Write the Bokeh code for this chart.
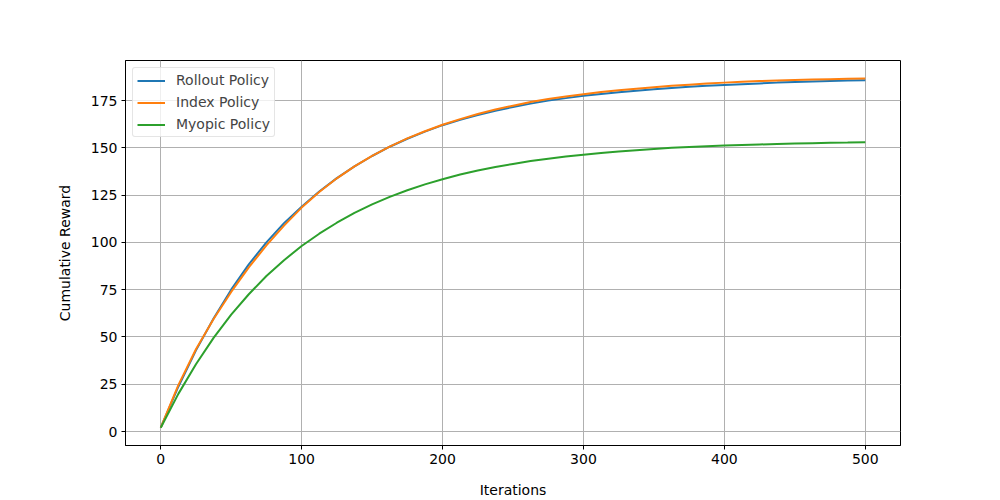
from bokeh.plotting import figure
from bokeh.models import Range1d, FixedTicker, Legend, LegendItem
from bokeh.embed import file_html
from bokeh.resources import INLINE

iterations = [0, 12.5, 25, 37.5, 50, 62.5, 75, 87.5, 100, 112.5, 125, 137.5, 150, 162.5, 175,
              187.5, 200, 212.5, 225, 237.5, 250, 262.5, 275, 287.5, 300, 312.5, 325, 337.5,
              350, 362.5, 375, 387.5, 400, 412.5, 425, 437.5, 450, 462.5, 475, 487.5, 500]

rollout = [2, 23.7, 42.9, 59.8, 75.0, 88.4, 100.0, 110.2, 118.9, 126.9, 134.0, 140.2, 145.7,
           150.6, 154.8, 158.6, 162.0, 164.8, 167.3, 169.6, 171.6, 173.4, 175.0, 176.3, 177.5,
           178.5, 179.4, 180.2, 181.0, 181.7, 182.3, 182.8, 183.3, 183.7, 184.1, 184.5, 184.8,
           185.1, 185.4, 185.6, 185.8]

index_pol = [2, 24.5, 43.5, 59.5, 73.8, 86.8, 98.4, 108.9, 118.4, 126.7, 133.9, 140.2, 145.8,
             150.7, 155.0, 158.8, 162.2, 165.2, 167.9, 170.3, 172.3, 174.2, 175.8, 177.2, 178.4,
             179.5, 180.5, 181.3, 182.1, 182.8, 183.4, 184.0, 184.5, 184.9, 185.3, 185.6, 185.9,
             186.1, 186.3, 186.5, 186.7]

myopic = [2, 19.9, 35.6, 49.5, 61.8, 72.6, 82.2, 90.6, 98.1, 104.6, 110.4, 115.6, 120.1,
          124.1, 127.6, 130.7, 133.4, 135.9, 138.0, 139.9, 141.5, 143.0, 144.3, 145.4, 146.4,
          147.3, 148.1, 148.8, 149.4, 150.0, 150.4, 150.8, 151.2, 151.5, 151.8, 152.1, 152.3,
          152.5, 152.7, 152.8, 153.0]

x_ticks = [0, 100, 200, 300, 400, 500]
y_ticks = [0, 25, 50, 75, 100, 125, 150, 175]

FONT = "DejaVu Sans"
FS = "14px"

p = figure(width=1000, height=500, output_backend="svg", toolbar_location=None,
           x_range=Range1d(-25, 525), y_range=Range1d(-7.4, 196.2),
           min_border_left=125, min_border_right=100, min_border_top=60, min_border_bottom=55)
p.frame_width = 775
p.frame_height = 385

r1 = p.line(iterations, rollout, line_color="#1f77b4", line_width=2)
r2 = p.line(iterations, index_pol, line_color="#ff7f0e", line_width=2)
r3 = p.line(iterations, myopic, line_color="#2ca02c", line_width=2)

for ax in (p.xaxis[0], p.yaxis[0]):
    ax.major_tick_in = 0
    ax.major_tick_out = 4
    ax.minor_tick_line_color = None
    ax.axis_line_color = "black"
    ax.major_tick_line_color = "black"
    ax.major_label_text_font = FONT
    ax.major_label_text_font_size = FS
    ax.major_label_text_color = "black"
    ax.axis_label_text_font = FONT
    ax.axis_label_text_font_size = FS
    ax.axis_label_text_font_style = "normal"
    ax.axis_label_text_color = "black"

p.xaxis.ticker = FixedTicker(ticks=x_ticks)
p.yaxis.ticker = FixedTicker(ticks=y_ticks)
p.xaxis.axis_label = "Iterations"
p.yaxis.axis_label = "Cumulative Reward"
p.xaxis.major_label_standoff = 4
p.yaxis.major_label_standoff = 4
p.xaxis.axis_label_standoff = 15
p.yaxis.axis_label_standoff = 15

p.grid.grid_line_color = "#b0b0b0"
p.grid.grid_line_width = 1
p.outline_line_color = "black"
p.outline_line_width = 1
p.background_fill_color = "white"
p.border_fill_color = "white"

legend = Legend(items=[LegendItem(label="Rollout Policy", renderers=[r1]),
                       LegendItem(label="Index Policy", renderers=[r2]),
                       LegendItem(label="Myopic Policy", renderers=[r3])],
                location="top_left")
legend.label_text_font = FONT
legend.label_text_font_size = FS
legend.label_height = 15
legend.glyph_height = 15
legend.glyph_width = 28
legend.label_standoff = 11
legend.spacing = 6
legend.padding = 4
legend.margin = 7
legend.border_line_color = "#cccccc"
legend.border_line_width = 1
legend.border_radius = 3
legend.background_fill_alpha = 0.8
p.add_layout(legend)

open("out.html", "w").write(file_html(p, INLINE))
